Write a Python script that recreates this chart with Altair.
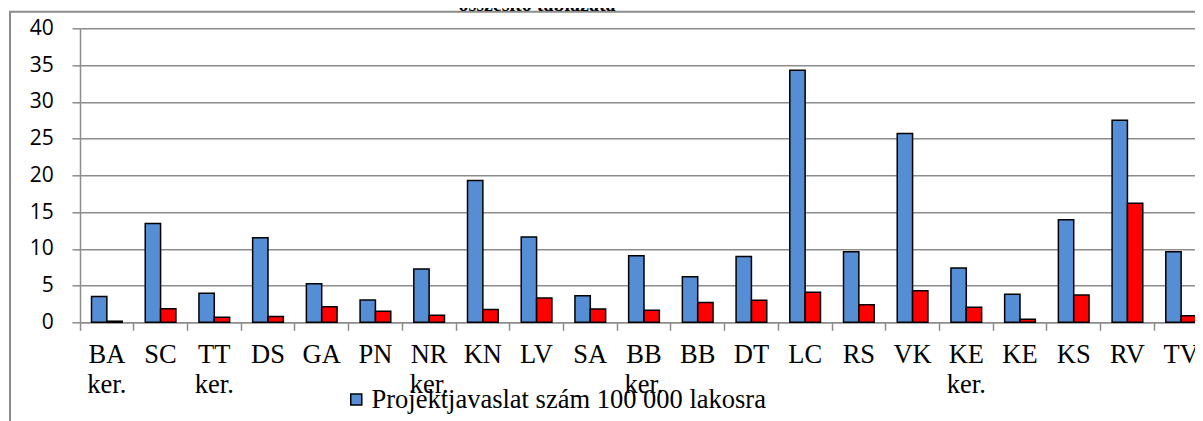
import altair as alt
import pandas as pd

categories = ["BA ker.", "SC", "TT ker.", "DS", "GA", "PN", "NR ker.", "KN", "LV", "SA",
              "BB ker.", "BB", "DT", "LC", "RS", "VK", "KE ker.", "KE", "KS", "RV", "TV"]
series_names = ["Projektjavaslat szám 100 000 lakosra",
                "Támogatott projekt szám 100 000 lakosra"]
blue_values = [3.5, 13.45, 3.95, 11.5, 5.25, 3.05, 7.25, 19.3, 11.6, 3.6,
               9.05, 6.2, 8.95, 34.3, 9.6, 25.7, 7.4, 3.8, 13.95, 27.5, 9.6]
red_values = [0.15, 1.85, 0.7, 0.8, 2.1, 1.5, 0.95, 1.75, 3.3, 1.8,
              1.65, 2.7, 3.0, 4.1, 2.4, 4.3, 2.05, 0.4, 3.7, 16.2, 0.9]
y_ticks = [0, 5, 10, 15, 20, 25, 30, 35, 40]
title_text = "összesítő táblázata"
colors = ["#558ED5", "#FF0000"]

rows = []
for c, b, r in zip(categories, blue_values, red_values):
    rows.append({"cat": c, "series": series_names[0], "value": b})
    rows.append({"cat": c, "series": series_names[1], "value": r})
df = pd.DataFrame(rows)

GRAY = "#8c8c8c"
full_w = 1128

border = alt.Chart(pd.DataFrame({"k": [0]})).mark_rect(
    fillOpacity=0, stroke=GRAY, strokeWidth=2
).encode(x=alt.value(-70), x2=alt.value(1400), y=alt.value(-16.6), y2=alt.value(700))

title = alt.Chart(pd.DataFrame({"t": [title_text]})).mark_text(
    font="Liberation Serif", fontSize=20, fontWeight="bold", align="center",
    baseline="alphabetic", color="black"
).encode(x=alt.value(457), y=alt.value(-17.3), text="t:N")

bars = alt.Chart(df).mark_bar(stroke="black", strokeWidth=1.5).encode(
    x=alt.X("cat:N", sort=categories,
            scale=alt.Scale(range=[0, full_w], paddingInner=0, paddingOuter=0),
            axis=alt.Axis(bandPosition=0, tickSize=8,
                          tickColor=GRAY, tickWidth=1.5, domainColor=GRAY, domainWidth=1.5,
                          labelFont="Liberation Serif", labelFontSize=26.5, labelColor="black",
                          labelPadding=11.3, labelAngle=0,
                          labelExpr="split(datum.label, ' ')", labelLineHeight=30,
                          labelOverlap=False, labelBound=False, labelFlush=False,
                          grid=False, title=None)),
    xOffset=alt.XOffset("series:N", sort=series_names,
                        scale=alt.Scale(paddingInner=0, paddingOuter=0.75)),
    y=alt.Y("value:Q", scale=alt.Scale(domain=[0, 40], nice=False),
            axis=alt.Axis(values=y_ticks, grid=True, gridColor=GRAY, gridWidth=1.5,
                          domainColor=GRAY, domainWidth=1.5, tickSize=8, tickColor=GRAY,
                          tickWidth=1.5, labelFont="Open Sans", labelFontSize=21,
                          labelColor="black", labelPadding=18.7, title=None)),
    color=alt.Color("series:N", sort=series_names,
                    scale=alt.Scale(domain=series_names, range=colors),
                    title=None,
                    legend=alt.Legend(values=[series_names[0]], orient="none",
                                      legendX=263, legendY=358, symbolType="square",
                                      symbolSize=121, symbolStrokeColor="black",
                                      symbolStrokeWidth=1.5, symbolOpacity=1,
                                      labelFont="Liberation Serif", labelFontSize=26.5,
                                      labelColor="black", labelOffset=2, padding=0,
                                      labelLimit=600)),
)

chart = alt.layer(border, title, bars).properties(
    width=1115, height=294,
    autosize=alt.AutoSizeParams(type="none"),
    padding={"left": 72, "top": 20.3, "right": 0, "bottom": 98.7},
    background="white",
).configure_view(stroke="transparent")

chart.save("out.html", embed_options={"renderer": "svg", "actions": False})
